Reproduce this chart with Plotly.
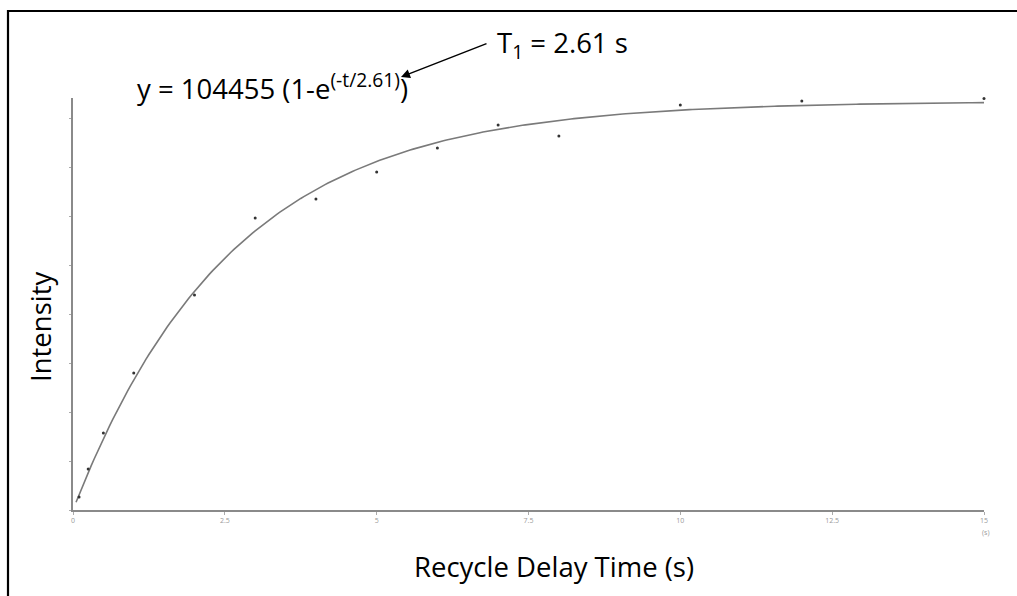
import plotly.graph_objects as go
import numpy as np

# ---- data ----
delay_times = [0.1, 0.25, 0.5, 1, 2, 3, 4, 5, 6, 7, 8, 10, 12, 15]
intensities = [3320, 10480, 19680, 35020, 54950, 74630, 79490, 86390, 92530,
               98400, 95590, 103510, 104540, 105200]

# fit parameters shown on the chart
fit_amplitude = 104455
fit_t1 = 2.61

x_tick_vals = [0, 2.5, 5, 7.5, 10, 12.5, 15]
x_tick_text = ["0", "2.5", "5", "7.5", "10", "12.5", "15"]
y_tick_vals = [0, 12500, 25000, 37500, 50000, 62500, 75000, 87500, 100000]

fit_t = np.linspace(0.05, 15, 300)
fit_y = fit_amplitude * (1 - np.exp(-fit_t / fit_t1))

W, H = 1017, 596
L, R, T, B = 73, 33, 98, 86
PW, PH = W - L - R, H - T - B


def px(x):
    return (x - L) / PW


def py(y):
    return (H - B - y) / PH


FONT = "Open Sans"

fig = go.Figure()
fig.add_trace(go.Scatter(x=fit_t, y=fit_y, mode="lines",
                         line=dict(color="#7a7a7a", width=1.6),
                         hoverinfo="skip", showlegend=False))
fig.add_trace(go.Scatter(x=delay_times, y=intensities, mode="markers",
                         marker=dict(color="#333333", size=3),
                         cliponaxis=False, showlegend=False))

fig.update_layout(
    width=W, height=H,
    margin=dict(l=L, r=R, t=T, b=B),
    paper_bgcolor="white", plot_bgcolor="white",
    font=dict(family=FONT, color="black"),
    xaxis=dict(range=[0, 15], showgrid=False, zeroline=False,
               showline=True, linecolor="#8a8a8a", linewidth=1.5,
               tickmode="array", tickvals=x_tick_vals, ticktext=x_tick_text,
               ticks="outside", ticklen=3, tickcolor="#aaaaaa",
               tickfont=dict(size=7, color="#999999")),
    yaxis=dict(range=[0, 105300], showgrid=False, zeroline=False,
               showline=True, linecolor="#8a8a8a", linewidth=1.5,
               tickmode="array", tickvals=y_tick_vals, showticklabels=False,
               ticks="outside", ticklen=2, tickcolor="#aaaaaa"),
)

annotations = [
    dict(text="(s)", x=px(985), y=py(526), xref="paper", yref="paper",
         xanchor="center", yanchor="top",
         showarrow=False, font=dict(size=7, color="#999999")),
    dict(text="Recycle Delay Time (s)", x=px(554), y=py(566), xref="paper", yref="paper",
         showarrow=False, font=dict(size=27.5, color="black"),
         xanchor="center", yanchor="middle"),
    dict(text="Intensity", x=px(40), y=py(327), xref="paper", yref="paper",
         showarrow=False, textangle=-90, font=dict(size=27.5, color="black"),
         xanchor="center", yanchor="middle"),
    dict(text="y = 104455 (1-e<sup>(-t/2.61)</sup>)", x=px(135), y=py(87),
         xref="paper", yref="paper", showarrow=False,
         font=dict(size=27.5, color="black"), xanchor="left", yanchor="middle"),
    dict(text="T<sub>1</sub> = 2.61 s", x=px(495), y=py(45),
         xref="paper", yref="paper", showarrow=False,
         font=dict(size=27.5, color="black"), xanchor="left", yanchor="middle"),
    dict(text="", x=px(401), y=py(77), xref="paper", yref="paper",
         showarrow=True, ax=87, ay=-34, axref="pixel", ayref="pixel",
         arrowhead=2, arrowsize=1.2, arrowwidth=1.5, arrowcolor="black", standoff=0),
]
fig.update_layout(annotations=annotations)

fig.add_shape(type="rect", xref="paper", yref="paper",
              x0=px(8), y0=py(11), x1=px(1040), y1=py(620),
              line=dict(color="black", width=2.2), fillcolor="rgba(0,0,0,0)")

fig.write_html("out.html")
